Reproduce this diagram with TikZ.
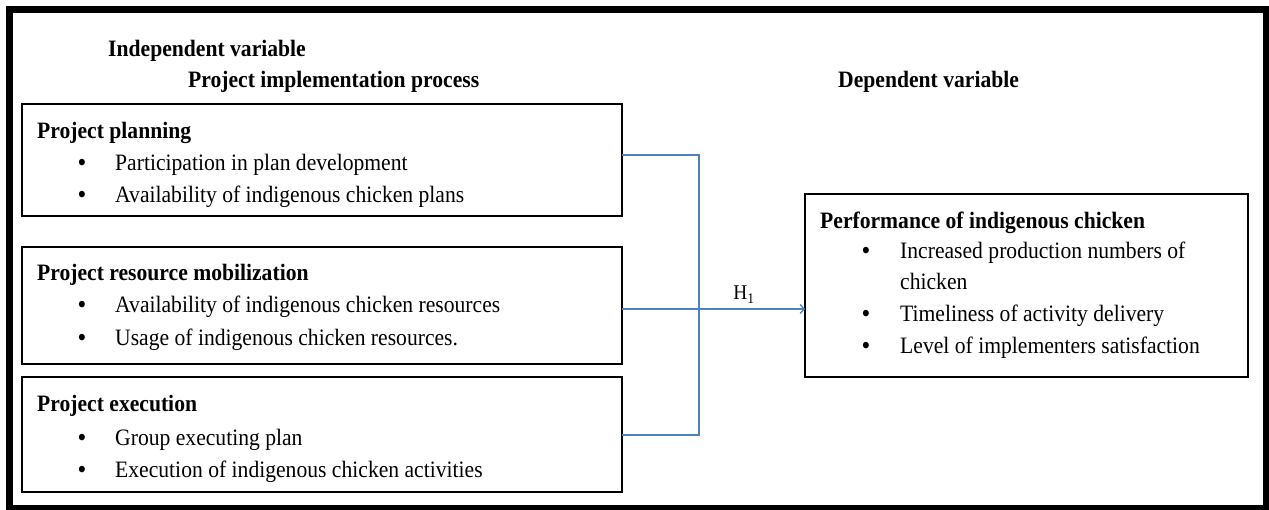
\documentclass[tikz,border=0pt]{standalone}
\usepackage{fontspec}
\setmainfont[FakeStretch=0.92]{Liberation Serif}
\usetikzlibrary{arrows.meta}
\begin{document}
\begin{tikzpicture}[x=1pt,y=-1pt,
  box/.style={draw=black, line width=2pt, anchor=north west, inner sep=0pt, outer sep=0pt},
  head/.style={anchor=base west, inner sep=0pt, font=\fontsize{23.5}{26}\selectfont\bfseries},
  txt/.style={anchor=base west, inner sep=0pt, font=\fontsize{23.5}{26}\selectfont},
  bul/.style={anchor=base, inner sep=0pt, font=\fontsize{24}{26}\selectfont\bfseries},
  conn/.style={draw={rgb,255:red,79;green,129;blue,189}, line width=2pt},
  tip/.style={-{Straight Barb[length=4pt,width=9pt,line width=1.3pt]}}
]
\useasboundingbox (0,0) rectangle (1269,510);
\begin{scope}
\clip (0,0) rectangle (1269,510);
\draw[line width=7pt] (9.5,10) rectangle (1266.5,508.5);
\end{scope}

\node[head] (iv) at (108,57) {Independent variable};
\node[head] (pip) at (188,88) {Project implementation process};
\node[head] (dv) at (838,88) {Dependent variable};

% box 1
\node[box, minimum width=600pt, minimum height=112pt] (b1) at (22,104) {};
\node[head] (b1h) at (37,139) {Project planning};
\node[bul] (b1b1) at (82,171) {\textbullet};
\node[txt] (b1t1) at (115,171) {Participation in plan development};
\node[bul] (b1b2) at (82,203) {\textbullet};
\node[txt] (b1t2) at (115,203) {Availability of indigenous chicken plans};

% box 2
\node[box, minimum width=600pt, minimum height=117pt] (b2) at (22,247) {};
\node[head] (b2h) at (37,281) {Project resource mobilization};
\node[bul] (b2b1) at (82,313) {\textbullet};
\node[txt] (b2t1) at (115,313) {Availability of indigenous chicken resources};
\node[bul] (b2b2) at (82,346) {\textbullet};
\node[txt] (b2t2) at (115,346) {Usage of indigenous chicken resources.};

% box 3
\node[box, minimum width=600pt, minimum height=115pt] (b3) at (22,377) {};
\node[head] (b3h) at (37,412) {Project execution};
\node[bul] (b3b1) at (82,445) {\textbullet};
\node[txt] (b3t1) at (115,445) {Group executing plan};
\node[bul] (b3b2) at (82,477) {\textbullet};
\node[txt] (b3t2) at (115,477) {Execution of indigenous chicken activities};

% right box
\node[box, minimum width=443pt, minimum height=183pt] (r) at (805,194) {};
\node[head] (rh) at (820,229) {Performance of indigenous chicken};
\node[bul] (rb1) at (866,259) {\textbullet};
\node[txt] (rt1) at (900,259) {Increased production numbers of};
\node[txt] (rt1b) at (900,290) {chicken};
\node[bul] (rb2) at (866,322) {\textbullet};
\node[txt] (rt2) at (900,322) {Timeliness of activity delivery};
\node[bul] (rb3) at (866,354) {\textbullet};
\node[txt] (rt3) at (900,354) {Level of implementers satisfaction};

% connectors
\coordinate (vx) at (699,0);
\coordinate (o1) at ([yshift=5pt]b1.east);
\coordinate (o2) at ([yshift=-3.5pt]b2.east);
\coordinate (o3) at (b3.east);
\draw[conn] (o1) -- (o1 -| vx) -- (o3 -| vx) -- (o3);
\draw[conn, tip] (o2) -- (o2 -| r.west);
\node[anchor=base, inner sep=0pt, font=\fontsize{21}{24}\selectfont] (h1) at (744,300) {H\textsubscript{1}};
\end{tikzpicture}
\end{document}
